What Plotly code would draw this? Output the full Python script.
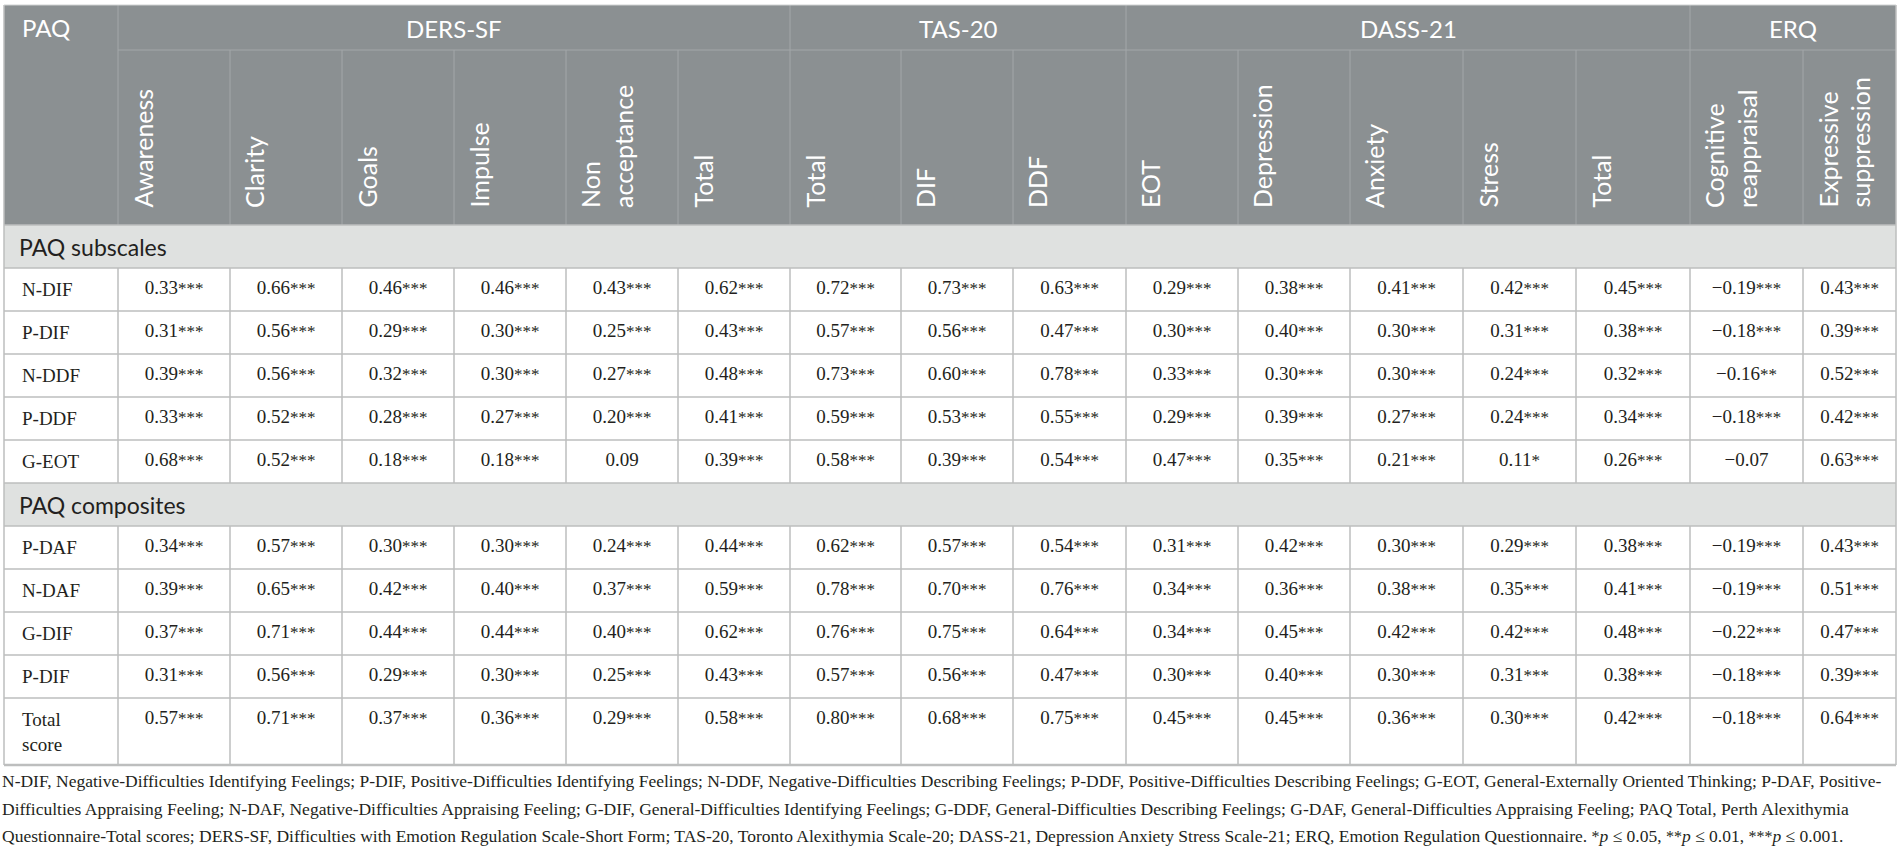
import plotly.graph_objects as go

# table content
groups = ['DERS-SF', 'TAS-20', 'DASS-21', 'ERQ']
group_sizes = [6, 3, 5, 2]
columns = ['Awareness', 'Clarity', 'Goals', 'Impulse', 'Non<br>acceptance', 'Total',
           'Total', 'DIF', 'DDF',
           'EOT', 'Depression', 'Anxiety', 'Stress', 'Total',
           'Cognitive<br>reappraisal', 'Expressive<br>suppression']
sections = ['PAQ subscales', 'PAQ composites']
subscale_rows = ['N-DIF', 'P-DIF', 'N-DDF', 'P-DDF', 'G-EOT']
composite_rows = ['P-DAF', 'N-DAF', 'G-DIF', 'P-DIF', 'Total<br>score']

# correlations (stars = significance)
n_dif = ['0.33***', '0.66***', '0.46***', '0.46***', '0.43***', '0.62***', '0.72***', '0.73***', '0.63***',
         '0.29***', '0.38***', '0.41***', '0.42***', '0.45***', '−0.19***', '0.43***']
p_dif = ['0.31***', '0.56***', '0.29***', '0.30***', '0.25***', '0.43***', '0.57***', '0.56***', '0.47***',
         '0.30***', '0.40***', '0.30***', '0.31***', '0.38***', '−0.18***', '0.39***']
n_ddf = ['0.39***', '0.56***', '0.32***', '0.30***', '0.27***', '0.48***', '0.73***', '0.60***', '0.78***',
         '0.33***', '0.30***', '0.30***', '0.24***', '0.32***', '−0.16**', '0.52***']
p_ddf = ['0.33***', '0.52***', '0.28***', '0.27***', '0.20***', '0.41***', '0.59***', '0.53***', '0.55***',
         '0.29***', '0.39***', '0.27***', '0.24***', '0.34***', '−0.18***', '0.42***']
g_eot = ['0.68***', '0.52***', '0.18***', '0.18***', '0.09', '0.39***', '0.58***', '0.39***', '0.54***',
         '0.47***', '0.35***', '0.21***', '0.11*', '0.26***', '−0.07', '0.63***']
p_daf = ['0.34***', '0.57***', '0.30***', '0.30***', '0.24***', '0.44***', '0.62***', '0.57***', '0.54***',
         '0.31***', '0.42***', '0.30***', '0.29***', '0.38***', '−0.19***', '0.43***']
n_daf = ['0.39***', '0.65***', '0.42***', '0.40***', '0.37***', '0.59***', '0.78***', '0.70***', '0.76***',
         '0.34***', '0.36***', '0.38***', '0.35***', '0.41***', '−0.19***', '0.51***']
g_dif = ['0.37***', '0.71***', '0.44***', '0.44***', '0.40***', '0.62***', '0.76***', '0.75***', '0.64***',
         '0.34***', '0.45***', '0.42***', '0.42***', '0.48***', '−0.22***', '0.47***']
p_dif2 = ['0.31***', '0.56***', '0.29***', '0.30***', '0.25***', '0.43***', '0.57***', '0.56***', '0.47***',
          '0.30***', '0.40***', '0.30***', '0.31***', '0.38***', '−0.18***', '0.39***']
total_score = ['0.57***', '0.71***', '0.37***', '0.36***', '0.29***', '0.58***', '0.80***', '0.68***', '0.75***',
               '0.45***', '0.45***', '0.36***', '0.30***', '0.42***', '−0.18***', '0.64***']

subscale_values = [n_dif, p_dif, n_ddf, p_ddf, g_eot]
composite_values = [p_daf, n_daf, g_dif, p_dif2, total_score]

STAR = '<span style="font-size:16px">{}</span>'
footnote = [
    'N-DIF, Negative-Difficulties Identifying Feelings; P-DIF, Positive-Difficulties Identifying Feelings; '
    'N-DDF, Negative-Difficulties Describing Feelings; P-DDF, Positive-Difficulties Describing Feelings; '
    'G-EOT, General-Externally Oriented Thinking; P-DAF, Positive-',
    'Difficulties Appraising Feeling; N-DAF, Negative-Difficulties Appraising Feeling; G-DIF, General-Difficulties '
    'Identifying Feelings; G-DDF, General-Difficulties Describing Feelings; G-DAF, General-Difficulties Appraising '
    'Feeling; PAQ Total, Perth Alexithymia',
    'Questionnaire-Total scores; DERS-SF, Difficulties with Emotion Regulation Scale-Short Form; TAS-20, Toronto '
    'Alexithymia Scale-20; DASS-21, Depression Anxiety Stress Scale-21; ERQ, Emotion Regulation Questionnaire. '
    + STAR.format('*') + '<i>p</i> ≤ 0.05, ' + STAR.format('**') + '<i>p</i> ≤ 0.01, '
    + STAR.format('***') + '<i>p</i> ≤ 0.001.',
]

# layout constants (pixels)
W, H = 1900, 848
LEFT = 4
col_widths = [114, 112, 112, 112, 112, 112, 112, 111, 112, 113, 112, 112, 113, 113, 114, 113, 93]
TOP, ROW1, HEAD_BOT = 5, 50, 225
ROW_H, LAST_ROW_H = 43, 67

HEAD_BG = '#8b9092'
HEAD_LINE = '#a3a7a9'
BAND_BG = '#dfe1e0'
GRID = '#bdbebe'
TEXT = '#231f20'
SANS = 'Lato'
SERIF = 'Liberation Serif'

x_edges = [LEFT]
for w in col_widths:
    x_edges.append(x_edges[-1] + w)
RIGHT = x_edges[-1]
centers = [(x_edges[i + 1] + x_edges[i + 2]) / 2 for i in range(len(columns))]

# vertical layout of body rows
band_tops = []
row_spans = []
y = HEAD_BOT
for sec, vals in zip(sections, [subscale_values, composite_values]):
    band_tops.append(y)
    y += ROW_H
    for k in range(len(vals)):
        h = LAST_ROW_H if (sec == sections[-1] and k == len(vals) - 1) else ROW_H
        row_spans.append((y, y + h))
        y += h
BOTTOM = y


def fmt(cell):
    # asterisks already sit high in the glyph, so only shrink them a little
    num = cell.rstrip('*')
    stars = cell[len(num):]
    return num + ('<span style="font-size:17px">' + stars + '</span>' if stars else '')


shapes = []
shapes.append(dict(type='rect', x0=LEFT, x1=RIGHT, y0=TOP, y1=HEAD_BOT, fillcolor=HEAD_BG, line_width=0, layer='below'))
for bt in band_tops:
    shapes.append(dict(type='rect', x0=LEFT, x1=RIGHT, y0=bt, y1=bt + ROW_H, fillcolor=BAND_BG, line_width=0, layer='below'))

# header lines
group_edges = [1]
for g in group_sizes:
    group_edges.append(group_edges[-1] + g)
for i in range(1, len(x_edges) - 1):
    y0 = TOP if i in group_edges else ROW1
    shapes.append(dict(type='line', x0=x_edges[i], x1=x_edges[i], y0=y0, y1=HEAD_BOT, line=dict(color=HEAD_LINE, width=1)))
shapes.append(dict(type='line', x0=x_edges[1], x1=RIGHT, y0=ROW1, y1=ROW1, line=dict(color=HEAD_LINE, width=1)))

# body grid
hlines = [HEAD_BOT] + [b + ROW_H for b in band_tops] + [r[1] for r in row_spans]
for yy in hlines:
    shapes.append(dict(type='line', x0=LEFT, x1=RIGHT, y0=yy, y1=yy, line=dict(color=GRID, width=1.5)))
for (t, b) in row_spans:
    for xx in x_edges[1:-1]:
        shapes.append(dict(type='line', x0=xx, x1=xx, y0=t, y1=b, line=dict(color=GRID, width=1.5)))
for xx in (LEFT, RIGHT):
    shapes.append(dict(type='line', x0=xx, x1=xx, y0=TOP, y1=BOTTOM, line=dict(color=GRID, width=1.5)))
shapes.append(dict(type='line', x0=LEFT, x1=RIGHT, y0=TOP, y1=TOP, line=dict(color='#d0d2d2', width=1)))
shapes.append(dict(type='line', x0=LEFT, x1=RIGHT, y0=BOTTOM, y1=BOTTOM, line=dict(color=GRID, width=2.5)))

# cell values
xs, ys, texts = [], [], []
all_values = subscale_values + composite_values
for (t, b), vals in zip(row_spans, all_values):
    yc = t + ROW_H / 2
    for cx, cell in zip(centers, vals):
        xs.append(cx)
        ys.append(yc)
        texts.append(fmt(cell))

fig = go.Figure()
fig.add_trace(go.Scatter(x=xs, y=ys, text=texts, mode='text', textposition='middle center',
                         textfont=dict(family=SERIF, size=19, color=TEXT), hoverinfo='skip', showlegend=False))

ann = []
# header row 1
ann.append(dict(x=LEFT + 16, y=(TOP + ROW1) / 2, text='PAQ', xanchor='left', yanchor='middle',
                font=dict(family=SANS, size=24, color='white')))
for g, s, e in zip(groups, group_edges[:-1], group_edges[1:]):
    ann.append(dict(x=(x_edges[s] + x_edges[e]) / 2, y=(TOP + ROW1) / 2 + 1, text=g, xanchor='center', yanchor='middle',
                    font=dict(family=SANS, size=24, color='white')))
# rotated column labels
for i, c in enumerate(columns):
    ann.append(dict(x=x_edges[i + 1] + 7, y=HEAD_BOT - 15, text=c, textangle=-90, align='left',
                    xanchor='left', yanchor='bottom', font=dict(family=SANS, size=25, color='white')))
# section bands
for sec, bt in zip(sections, band_tops):
    ann.append(dict(x=LEFT + 13, y=bt + ROW_H / 2, text=sec, xanchor='left', yanchor='middle',
                    font=dict(family=SANS, size=23, color=TEXT)))
# row labels
for (t, b), lab in zip(row_spans, subscale_rows + composite_rows):
    if '<br>' in lab:
        ann.append(dict(x=LEFT + 16, y=t + 9, text=lab, xanchor='left', yanchor='top', align='left',
                        font=dict(family=SERIF, size=19, color=TEXT)))
    else:
        ann.append(dict(x=LEFT + 16, y=t + ROW_H / 2, text=lab, xanchor='left', yanchor='middle',
                        font=dict(family=SERIF, size=19, color=TEXT)))
# footnote
for k, line in enumerate(footnote):
    ann.append(dict(x=LEFT - 4, y=781 + k * 27.5, text=line, xanchor='left', yanchor='middle',
                    font=dict(family=SERIF, size=17.5, color=TEXT)))

for a in ann:
    a.update(xref='x', yref='y', showarrow=False)

fig.update_layout(
    width=W, height=H, margin=dict(l=0, r=0, t=0, b=0),
    paper_bgcolor='white', plot_bgcolor='white',
    xaxis=dict(range=[0, W], visible=False, fixedrange=True),
    yaxis=dict(range=[H, 0], visible=False, fixedrange=True),
    shapes=shapes, annotations=ann,
)
# page body has a default 8px margin; drop it so the figure fills the window
fig.write_html('out.html', config={'displayModeBar': False},
               post_script="document.body.style.margin='0';")
